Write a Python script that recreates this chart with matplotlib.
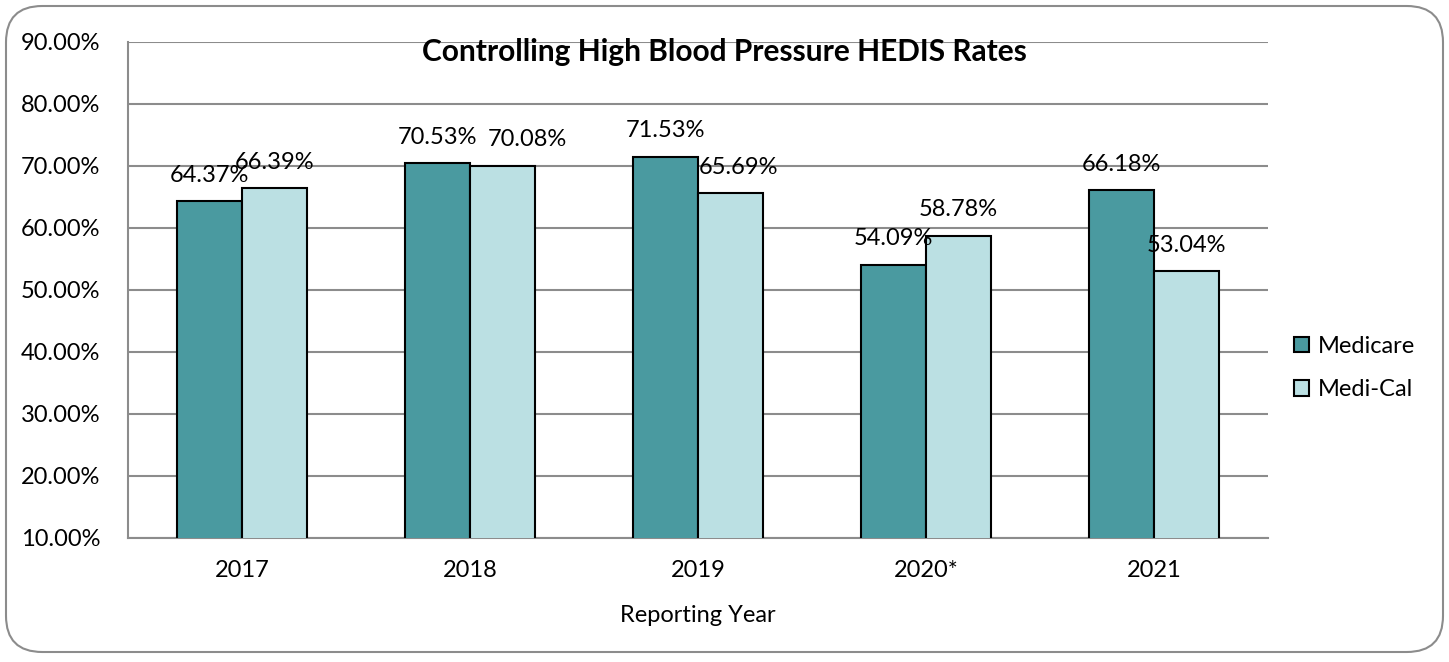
import numpy as np
import matplotlib
matplotlib.use("Agg")
from matplotlib import pyplot as plt
from matplotlib.patches import FancyBboxPatch, Patch
from matplotlib.ticker import FuncFormatter

years = ["2017", "2018", "2019", "2020*", "2021"]
medicare = [64.37, 70.53, 71.53, 54.09, 66.18]
medical = [66.39, 70.08, 65.69, 58.78, 53.04]

plt.rcParams['font.family'] = ['Lato', 'DejaVu Sans']
fs = 17

# the spreadsheet pushed a couple of Medi-Cal labels sideways (points)
medical_label_shift = [0, 17.6, 5.8, 0, 0]

fig = plt.figure(figsize=(14.49, 6.62), dpi=100)
ax = fig.add_axes([128 / 1449, 1 - 538 / 662, 1140 / 1449, 496 / 662])

# rounded frame round the whole chart
frame = FancyBboxPatch((6 / 1449, 10 / 662), 1437 / 1449, 646 / 662,
                       boxstyle="round,pad=0,rounding_size=0.025",
                       transform=fig.transFigure, facecolor='none',
                       edgecolor='#8c8c8c', linewidth=1.5, mutation_aspect=1449 / 662)
fig.patches.append(frame)

x = np.arange(len(years))
w = 0.285
b1 = ax.bar(x - w / 2, medicare, w, bottom=0, color='#4a9aa0', edgecolor='black', linewidth=1.5, zorder=3)
b2 = ax.bar(x + w / 2, medical, w, bottom=0, color='#bbe0e3', edgecolor='black', linewidth=1.5, zorder=3)

for bars, vals, shifts in [(b1, medicare, [0] * len(years)), (b2, medical, medical_label_shift)]:
    for rect, v, dx in zip(bars, vals, shifts):
        ax.annotate(f'{v:.2f}%', xy=(rect.get_x() + rect.get_width() / 2, v),
                    xytext=(dx, 13.8), textcoords='offset points',
                    ha='center', va='baseline', fontsize=fs, zorder=4)

ax.set_ylim(10, 90)
ax.set_xlim(-0.5, len(years) - 0.5)
ax.set_yticks(np.arange(10, 91, 10))
ax.yaxis.set_major_formatter(FuncFormatter(lambda v, p: f'{v:.2f}%'))
ax.set_xticks(x)
ax.set_xticklabels(years)
ax.tick_params(axis='both', length=0, labelsize=fs)
ax.tick_params(axis='x', pad=16)
ax.tick_params(axis='y', pad=20)
ax.grid(axis='y', color='#8c8c8c', linewidth=1.5, zorder=0)
ax.set_axisbelow(True)
for s in ['top', 'right']:
    ax.spines[s].set_visible(False)
for s in ['left', 'bottom']:
    ax.spines[s].set_color('#8c8c8c')
    ax.spines[s].set_linewidth(1.5)

ax.set_xlabel('Reporting Year', fontsize=fs, labelpad=17)

fig.text(0.5, 1 - 52 / 662, 'Controlling High Blood Pressure HEDIS Rates',
         ha='center', va='center', fontsize=21.5, fontweight='bold')

handles = [Patch(facecolor='#4a9aa0', edgecolor='black', linewidth=1.5, label='Medicare'),
           Patch(facecolor='#bbe0e3', edgecolor='black', linewidth=1.5, label='Medi-Cal')]
fig.legend(handles=handles, loc='center left', bbox_to_anchor=(1294 / 1449, 1 - 368 / 662),
           frameon=False, fontsize=fs, handlelength=0.64, handleheight=0.64,
           handletextpad=0.35, labelspacing=0.95, borderpad=0, borderaxespad=0)

fig.savefig('out.png', dpi=100, facecolor='white')
